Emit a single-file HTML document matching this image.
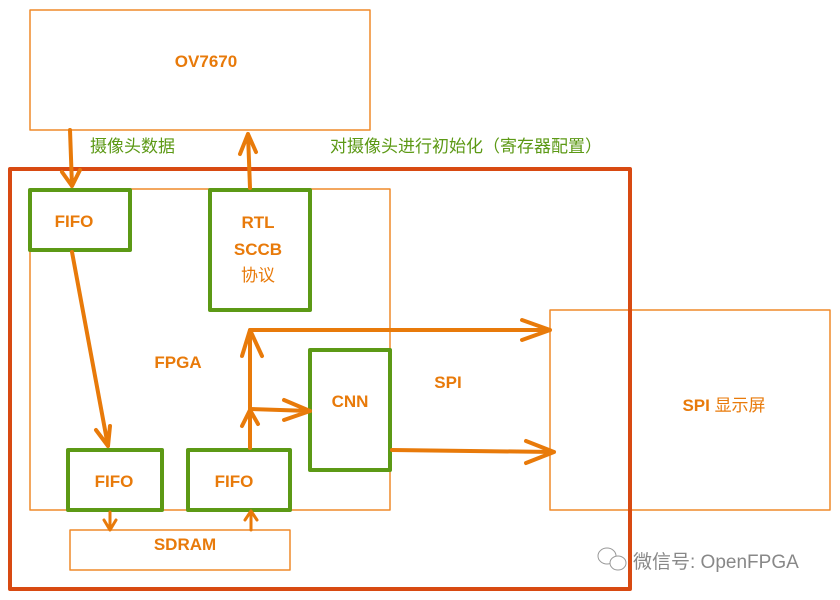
<!DOCTYPE html>
<html><head><meta charset="utf-8"><style>
html,body{margin:0;padding:0;background:#fff;width:840px;height:600px;overflow:hidden}
text{font-family:"Liberation Sans","Noto Sans CJK SC",sans-serif}
</style></head><body>
<svg width="840" height="600" viewBox="0 0 840 600" xmlns="http://www.w3.org/2000/svg">
<g fill="none" stroke-linecap="round" stroke-linejoin="round">
<rect x="30" y="10" width="340" height="120" stroke="#ef8a2a" stroke-width="1.5"/>
<rect x="30" y="189" width="360" height="321" stroke="#ef8a2a" stroke-width="1.5"/>
<rect x="70" y="530" width="220" height="40" stroke="#ef8a2a" stroke-width="1.5"/>
<rect x="550" y="310" width="280" height="200" stroke="#ef8a2a" stroke-width="1.5"/>
<rect x="10" y="169" width="620" height="420" stroke="#d84a12" stroke-width="4"/>
<g stroke="#5c9915" stroke-width="4" fill="#fff">
<rect x="30" y="190" width="100" height="60"/>
<rect x="210" y="190" width="100" height="120"/>
<rect x="310" y="350" width="80" height="120"/>
<rect x="68" y="450" width="94" height="60"/>
<rect x="188" y="450" width="102" height="60"/>
</g>
<g stroke="#e87a0a" stroke-width="4">
<path d="M70 130 L72 186 M62 172 L72 186 L80 170"/>
<path d="M250 188 L248 134 M240 154 L248 134 L256 152"/>
<path d="M72 252 L108 446 M96 430 L108 446 L110 426"/>
<path d="M250 448 L250 412 M242 426 L250 410 L258 424"/>
<path d="M250 410 L250 332 M242 356 L250 330 L262 356"/>
<path d="M250 330 L550 330 M522 320 L550 330 L522 340"/>
<path d="M250 409 L310 411 M284 400 L310 411 L284 420"/>
<path d="M392 450 L554 452 M526 441 L554 452 L526 463"/>
<path d="M110 512 L110 530 M104 520 L110 530 L116 520" stroke-width="3"/>
<path d="M251 530 L251 512 M245 520 L251 511 L257 520" stroke-width="3"/>
</g>
</g>
<g fill="#e87a0a" font-size="17" font-weight="bold">
<text x="206" y="67" text-anchor="middle">OV7670</text>
<text x="74" y="227" text-anchor="middle">FIFO</text>
<text x="258" y="228" text-anchor="middle">RTL</text>
<text x="258" y="255" text-anchor="middle">SCCB</text>
<text x="258" y="281" text-anchor="middle" font-weight="normal">协议</text>
<text x="178" y="368" text-anchor="middle">FPGA</text>
<text x="350" y="407" text-anchor="middle">CNN</text>
<text x="448" y="388" text-anchor="middle">SPI</text>
<text x="724" y="411" text-anchor="middle">SPI <tspan font-weight="normal">显示屏</tspan></text>
<text x="114" y="487" text-anchor="middle">FIFO</text>
<text x="234" y="487" text-anchor="middle">FIFO</text>
<text x="185" y="550" text-anchor="middle">SDRAM</text>
</g>
<g fill="#5c9915" font-size="17">
<text x="90" y="152">摄像头数据</text>
<text x="330" y="152">对摄像头进行初始化（寄存器配置）</text>
</g>
<g stroke="#999" fill="#fff" stroke-width="1">
<ellipse cx="607" cy="556" rx="9" ry="8"/>
<ellipse cx="618" cy="563" rx="8" ry="7"/>
</g>
<text x="633" y="568" fill="#888" font-size="19">微信号: OpenFPGA</text>
</svg>
</body></html>
